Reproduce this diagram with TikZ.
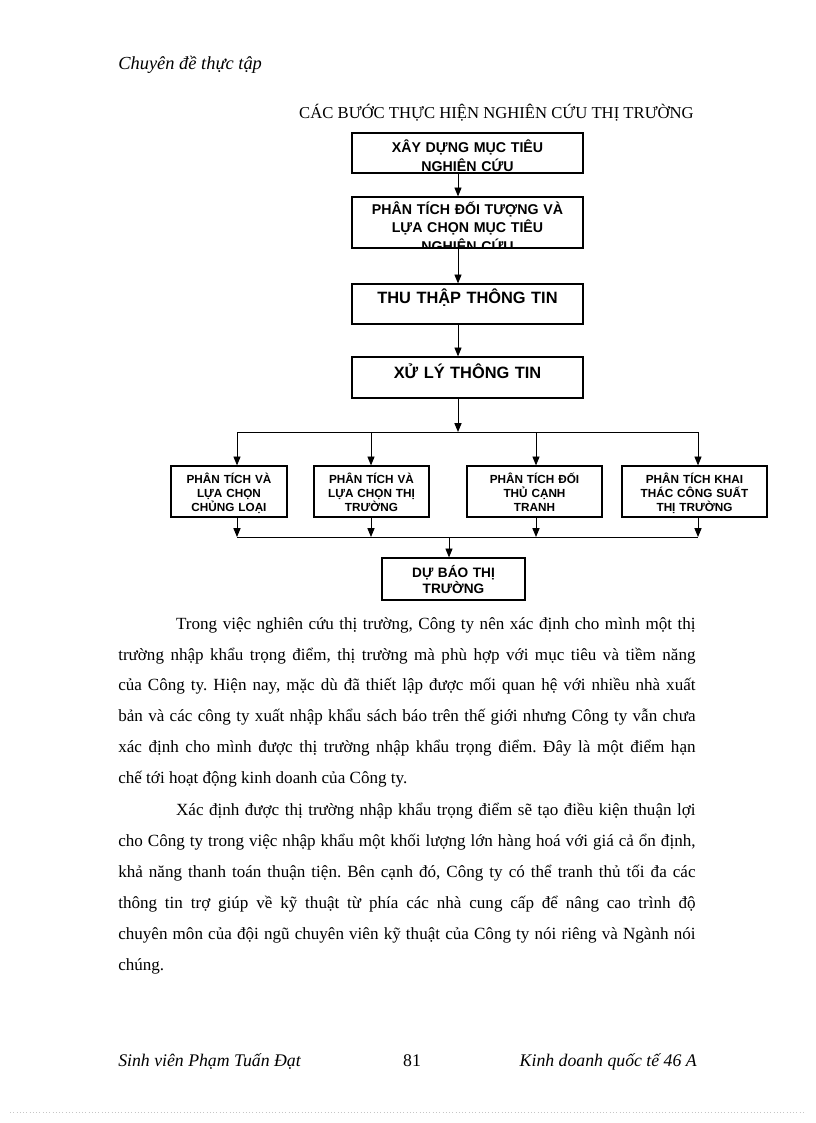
\documentclass[tikz,border=0pt]{standalone}
\usepackage{fontspec}
\setmainfont{Liberation Serif}
\newfontfamily\boxfont{Liberation Sans}
\usetikzlibrary{arrows.meta,fit}
\frenchspacing

\tikzset{
  stepbox/.style n args={4}{draw, line width=0.9pt, inner sep=0pt,
    path picture={\node[anchor=base, inner sep=0pt, text width=6cm, align=center,
      font={\boxfont\bfseries\fontsize{#1}{#2}\selectfont}]
      at ([yshift=-#3]path picture bounding box.north) {#4};}},
  arr/.style={-{Triangle[length=6.5pt,width=5.2pt]}, line width=0.7pt},
  bus/.style={line width=0.7pt},
  para/.style={anchor=base west, inner sep=0pt, text width=422.8pt, align=justify,
    font={\fontsize{12.5}{22.7}\selectfont\hyphenpenalty=10000}},
}

\begin{document}
\begin{tikzpicture}[x=0.025735cm, y=-0.025735cm]
        \fill[white] (0,0) rectangle (816,1123);
        \useasboundingbox (0,0) rectangle (816,1123);
        %% page head
        \node[anchor=base west, inner sep=0pt, font=\fontsize{13.5}{16}\selectfont\itshape] (header) at (118,69) {Chuyên đề thực tập};
        \node[anchor=base, inner sep=0pt, font=\fontsize{12.2}{14}\selectfont] (title) at (496.5,118.5) {CÁC BƯỚC THỰC HIỆN NGHIÊN CỨU THỊ TRƯỜNG};
        %% main steps
        \node[stepbox={10.4}{13.4}{14.6pt}{XÂY DỰNG MỤC TIÊU\\NGHIÊN CỨU}, fit={(352,133) (583,173)}] (goal) {};
        \node[stepbox={10.4}{13.4}{12.9pt}{PHÂN TÍCH ĐỐI TƯỢNG VÀ\\LỰA CHỌN MỤC TIÊU\\NGHIÊN CỨU}, fit={(352,197) (583,248)}] (target) {};
        \node[stepbox={12}{14}{14.6pt}{THU THẬP THÔNG TIN}, fit={(352,284) (583,324)}] (collect) {};
        \node[stepbox={12}{14}{16pt}{XỬ LÝ THÔNG TIN}, fit={(352,357) (583,398)}] (process) {};
        %% analyses
        \node[stepbox={8.6}{10.2}{13.1pt}{PHÂN TÍCH VÀ\\LỰA CHỌN\\CHỦNG LOẠI}, fit={(171,466) (287,517)}] (kind) {};
        \node[stepbox={8.6}{10.2}{13.1pt}{PHÂN TÍCH VÀ\\LỰA CHỌN THỊ\\TRƯỜNG}, fit={(314,466) (429,517)}] (market) {};
        \node[stepbox={8.6}{10.2}{13.1pt}{PHÂN TÍCH ĐỐI\\THỦ CẠNH\\TRANH}, fit={(467,466) (602,517)}] (rival) {};
        \node[stepbox={8.6}{10.2}{13.1pt}{PHÂN TÍCH KHAI\\THÁC CÔNG SUẤT\\THỊ TRƯỜNG}, fit={(622,466) (767,517)}] (capacity) {};
        \node[stepbox={10}{11.7}{14.6pt}{DỰ BÁO THỊ\\TRƯỜNG}, fit={(382,558) (525,600)}] (forecast) {};
        %% arrows
        \coordinate (col) at (458,0);
        \coordinate (split) at (458,432);
        \coordinate (join) at (449,537);
        \draw[arr] (goal.south -| col) -- (target.north -| col);
        \draw[arr] (target.south -| col) -- (collect.north -| col);
        \draw[arr] (collect.south -| col) -- (process.north -| col);
        \draw[arr] (process.south -| col) -- (split);
        \foreach \n/\x in {kind/237, market/371, rival/536, capacity/698} {
            \coordinate (\n-in) at (\x,432);
            \coordinate (\n-out) at (\x,537);
        }
        \draw[bus] (kind-in) -- (capacity-in);
        \draw[bus] (kind-out) -- (capacity-out);
        \foreach \n in {kind, market, rival, capacity} {
            \draw[arr] (\n-in) -- (\n.north -| \n-in);
            \draw[arr] (\n.south -| \n-out) -- (\n-out);
        }
        \draw[arr] (join) -- (forecast.north -| join);
        %% text
        \node[para] (intro) at (118,629) {\hspace*{42.4pt}Trong việc nghiên cứu thị trường, Công ty nên xác định cho mình một thị\linebreak
            trường nhập khẩu trọng điểm, thị trường mà phù hợp với mục tiêu và tiềm năng\linebreak
            của Công ty. Hiện nay, mặc dù đã thiết lập được mối quan hệ với nhiều nhà xuất\linebreak
            bản và các công ty xuất nhập khẩu sách báo trên thế giới nhưng Công ty vẫn chưa\linebreak
            xác định cho mình được thị trường nhập khẩu trọng điểm. Đây là một điểm hạn\linebreak
            chế tới hoạt động kinh doanh của Công ty.};
        \node[para] (benefit) at (118,815.5) {\hspace*{42.4pt}Xác định được thị trường nhập khẩu trọng điểm sẽ tạo điều kiện thuận lợi\linebreak
            cho Công ty trong việc nhập khẩu một khối lượng lớn hàng hoá với giá cả ổn định,\linebreak
            khả năng thanh toán thuận tiện. Bên cạnh đó, Công ty có thể tranh thủ tối đa các\linebreak
            thông tin trợ giúp về kỹ thuật từ phía các nhà cung cấp để nâng cao trình độ\linebreak
            chuyên môn của đội ngũ chuyên viên kỹ thuật của Công ty nói riêng và Ngành nói\linebreak
            chúng.};
        %% page foot
        \node[anchor=base west, inner sep=0pt, font=\fontsize{13}{16}\selectfont\itshape] (student) at (118,1066) {Sinh viên Phạm Tuấn Đạt};
        \node[anchor=base, inner sep=0pt, font=\fontsize{13}{16}\selectfont] (page) at (412,1066) {81};
        \node[anchor=base east, inner sep=0pt, font=\fontsize{13}{16}\selectfont\itshape] (course) at (697,1066) {Kinh doanh quốc tế 46 A};
        \draw[gray!45, dotted] (10,1112) -- (806,1112);
    \end{tikzpicture}
\end{document}
